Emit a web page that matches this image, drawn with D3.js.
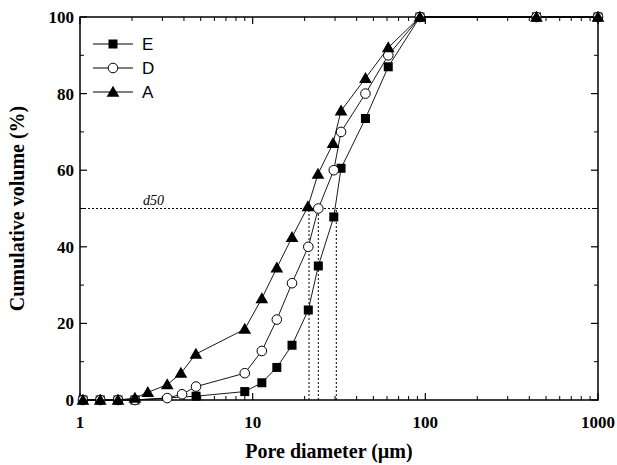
<!DOCTYPE html><html><head><meta charset="utf-8">
<script src="https://d3js.org/d3.v7.min.js"></script>
<style>body{margin:0;background:#fff}</style></head><body><svg id="c" width="617" height="465"></svg>
<script>
const seriesNames=["E","D","A"];
const xE=[1.04,1.31,1.66,2.08,4.7,9,11.3,13.8,16.9,21,24,29.5,32.5,45,61,93,440,1000];
const yE=[0,0,0,0,1,2.2,4.5,8.5,14.3,23.5,35,47.8,60.5,73.5,87,100,100,100];
const xD=[1.04,1.31,1.66,2.08,3.2,3.9,4.7,9,11.3,13.8,16.9,21,24,29.5,32.5,45,61,93,440,1000];
const yD=[0,0,0,0,0.5,1.5,3.5,7,12.8,21,30.5,40,50,60,70,80,90,100,100,100];
const xA=[1.04,1.31,1.66,2.08,2.47,3.2,3.84,4.69,9,11.3,13.8,16.9,20.9,23.9,29.2,32.5,45,61,93,440,1000];
const yA=[0,0,0,0.5,2,4,7,12,18.5,26.5,34.5,42.5,50.5,59,67,75.5,84,92,100,100,100];
const d50=[21.2,24,30.5];
const yTicks=[0,20,40,60,80,100];
const xTicks=[1,10,100,1000];
const svg=d3.select("#c");
const L=80,R=598,T=17,B=400;
const x=d3.scaleLog().domain([1,1000]).range([L,R]);
const y=d3.scaleLinear().domain([0,100]).range([B,T]);
const g=svg.append("g");
// dotted
g.append("line").attr("x1",L).attr("x2",R).attr("y1",y(50)).attr("y2",y(50)).attr("stroke","#000").attr("stroke-dasharray","2,2");
d50.forEach(v=>g.append("line").attr("x1",x(v)).attr("x2",x(v)).attr("y1",y(0)).attr("y2",y(50)).attr("stroke","#000").attr("stroke-dasharray","2,2"));
g.append("text").attr("x",143).attr("y",y(50)-4).attr("font-family","Liberation Serif").attr("font-style","italic").attr("font-size",14).text("d50");
// frame
g.append("rect").attr("x",L).attr("y",T).attr("width",R-L).attr("height",B-T).attr("fill","none").attr("stroke","#000").attr("stroke-width",1.5);
// ticks
const minorX=[];for(let d=1;d<1000;d*=10)for(let k=2;k<10;k++)minorX.push(d*k);
xTicks.forEach(v=>{[[B,B-7],[T,T+7]].forEach(([a,b])=>g.append("line").attr("x1",x(v)).attr("x2",x(v)).attr("y1",a).attr("y2",b).attr("stroke","#000").attr("stroke-width",1.2));
 g.append("text").attr("x",x(v)).attr("y",B+28).attr("text-anchor","middle").attr("font-family","Liberation Serif").attr("font-weight","bold").attr("font-size",17).text(v);});
minorX.forEach(v=>[[B,B-4],[T,T+4]].forEach(([a,b])=>g.append("line").attr("x1",x(v)).attr("x2",x(v)).attr("y1",a).attr("y2",b).attr("stroke","#000")));
for(let v=0;v<=100;v+=10){const maj=v%20==0,l=maj?7:4;
 [[L,L+l],[R,R-l]].forEach(([a,b])=>g.append("line").attr("x1",a).attr("x2",b).attr("y1",y(v)).attr("y2",y(v)).attr("stroke","#000").attr("stroke-width",maj?1.2:1));}
yTicks.forEach(v=>g.append("text").attr("x",L-6).attr("y",y(v)+6).attr("text-anchor","end").attr("font-family","Liberation Serif").attr("font-weight","bold").attr("font-size",17).text(v));
g.append("text").attr("x",(L+R)/2-10).attr("y",458).attr("text-anchor","middle").attr("font-family","Liberation Serif").attr("font-weight","bold").attr("font-size",20).text("Pore diameter (µm)");
g.append("text").attr("transform",`translate(24,${(T+B)/2}) rotate(-90)`).attr("text-anchor","middle").attr("font-family","Liberation Serif").attr("font-weight","bold").attr("font-size",20).text("Cumulative volume (%)");
// series
const line=d3.line().x(d=>x(d[0])).y(d=>y(d[1]));
const data=[[xE,yE,"sq"],[xD,yD,"ci"],[xA,yA,"tr"]];
function mark(sel,t,cx,cy){
 if(t=="sq")sel.append("rect").attr("x",cx-4.5).attr("y",cy-4.5).attr("width",9).attr("height",9).attr("fill","#000");
 else if(t=="ci")sel.append("circle").attr("cx",cx).attr("cy",cy).attr("r",4.8).attr("fill","#fff").attr("stroke","#000");
 else sel.append("path").attr("d",d3.symbol(d3.symbolTriangle,70)()).attr("transform",`translate(${cx},${cy+1})`).attr("fill","#000");}
data.forEach(([xs,ys,t])=>{const pts=xs.map((v,i)=>[v,ys[i]]);
 g.append("path").attr("d",line(pts)).attr("fill","none").attr("stroke","#000").attr("stroke-width",0.9);
 pts.forEach(p=>mark(g,t,x(p[0]),y(p[1])));});
// legend
seriesNames.forEach((n,i)=>{const ly=44+i*24;
 g.append("line").attr("x1",93).attr("x2",133).attr("y1",ly).attr("y2",ly).attr("stroke","#000");
 mark(g,data[i][2],113,ly);
 g.append("text").attr("x",142).attr("y",ly+6).attr("font-family","Liberation Sans").attr("font-size",17).text(n);});
</script></body></html>
